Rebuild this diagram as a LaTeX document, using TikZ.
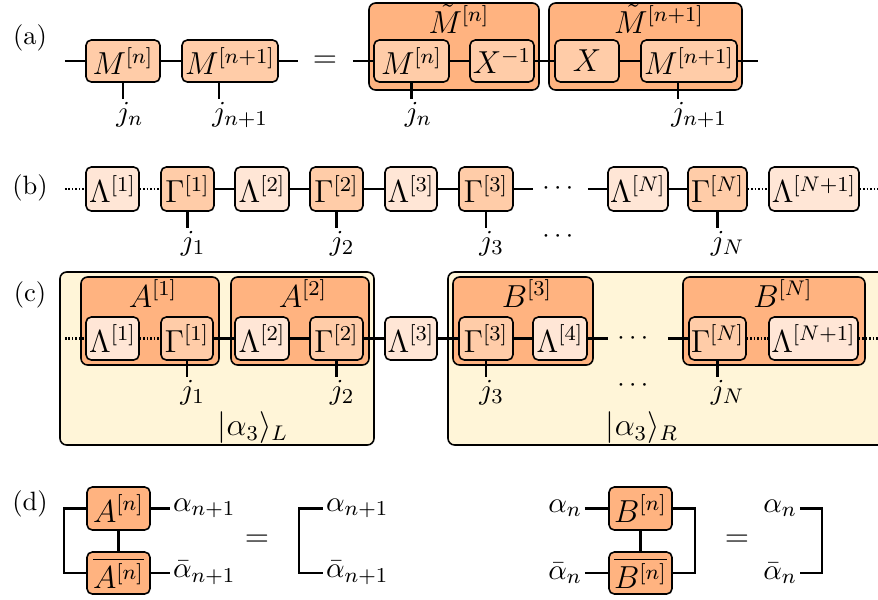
\documentclass[tikz,border=0pt]{standalone}
\usepackage{amsmath,mathtools}
\definecolor{orD}{HTML}{FFB380}
\definecolor{orM}{HTML}{FFCCA8}
\definecolor{orL}{HTML}{FFE6D6}
\definecolor{yel}{HTML}{FFF5D8}
\newcommand\labfont{\fontsize{11}{13}\selectfont}
\tikzset{
  bx/.style={draw, line width=0.6pt, rounded corners=2pt, inner sep=0pt, font=\large},
  midb/.style={bx, fill=orM},
  lightb/.style={bx, fill=orL},
  darkb/.style={bx, fill=orD},
  outerb/.style={draw, line width=0.6pt, rounded corners=2.5pt, inner sep=0pt, fill=orD},
  bgbox/.style={draw, line width=0.6pt, rounded corners=2.5pt, inner sep=0pt, fill=yel},
  wire/.style={line width=0.9pt},
  dwire/.style={line width=0.9pt, dash pattern=on 0.6pt off 0.7pt},
  lab/.style={inner sep=1pt, font=\labfont},
  ttl/.style={inner sep=0pt, font=\large, anchor=base},
  plab/.style={inner sep=0pt, anchor=base},
}
% box from corners (px): style, name, x1, y1, x2, y2, text
\newcommand\tbox[7]{%
  \pgfmathsetmacro\bw{(#5-#3)*0.3774}%
  \pgfmathsetmacro\bh{(#6-#4)*0.3774}%
  \pgfmathsetmacro\bcx{(#3+#5)/2}%
  \pgfmathsetmacro\bcy{(#4+#6)/2}%
  \node[#1, minimum width=\bw pt, minimum height=\bh pt] (#2) at (\bcx,\bcy) {#7};}
\begin{document}
\begin{tikzpicture}[x=0.3774pt,y=-0.3774pt]
\useasboundingbox (0,0) rectangle (878,599);
% ---------------- (a)
\node[plab] (la) at (30,44) {(a)};
\tbox{midb}{a1}{86}{40}{160}{82}{$M^{[n]}$}
\tbox{midb}{a2}{182}{40}{278}{82}{$M^{[n+1]}$}
\coordinate (aL) at (65,61);
\coordinate (aR) at (298,61);
\draw[wire] (aL) -- (a1) -- (a2) -- (aR);
\draw[wire] (a1.south) -- ++(0,16) coordinate (a1j);
\node[lab, anchor=north] at (a1j) {$j_{\mathrlap{n}}$};
\draw[wire] ([xshift=-11*0.3774pt]a2.south) -- ++(0,16) coordinate (a2j);
\node[lab, anchor=north] at (a2j) {$j_{\mathrlap{n+1}}$};
\node[font=\large] (eqa) at (325,62) {$=$};
\tbox{outerb}{mt1}{369}{3}{539}{90}{}
\tbox{outerb}{mt2}{549}{3}{742}{90}{}
\node[ttl] at (459,33.5) {$\tilde{M}^{[n]}$};
\node[ttl] at (659,33.5) {$\tilde{M}^{[n+1]}$};
\tbox{midb}{b1}{374}{40}{449}{82}{$M^{[n]}$}
\tbox{midb}{b2}{470}{40}{534}{82}{$X^{-1}$}
\tbox{midb}{b3}{555}{40}{619}{82}{$X$}
\tbox{midb}{b4}{641}{40}{737}{82}{$M^{[n+1]}$}
\coordinate (bL) at (353,61);
\coordinate (bR) at (758,61);
\draw[wire] (bL) -- (b1) -- (b2) -- (b3) -- (b4) -- (bR);
\draw[wire] (b1.south) -- ++(0,16) coordinate (b1j);
\node[lab, anchor=north] at (b1j) {$j_{\mathrlap{n}}$};
\draw[wire] ([xshift=-11*0.3774pt]b4.south) -- ++(0,16) coordinate (b4j);
\node[lab, anchor=north] at (b4j) {$j_{\mathrlap{n+1}}$};
% ---------------- (b)
\node[plab] (lb) at (30,194) {(b)};
\tbox{lightb}{c1}{86}{167}{139}{211}{$\Lambda^{[1]}$}
\tbox{midb}{c2}{161}{167}{214}{211}{$\Gamma^{[1]}$}
\tbox{lightb}{c3}{235}{167}{289}{211}{$\Lambda^{[2]}$}
\tbox{midb}{c4}{310}{167}{363}{211}{$\Gamma^{[2]}$}
\tbox{lightb}{c5}{385}{167}{437}{211}{$\Lambda^{[3]}$}
\tbox{midb}{c6}{459}{167}{513}{211}{$\Gamma^{[3]}$}
\tbox{lightb}{c7}{608}{167}{668}{211}{$\Lambda^{[N]}$}
\tbox{midb}{c8}{688}{167}{747}{211}{$\Gamma^{[N]}$}
\tbox{lightb}{c9}{769}{167}{859}{211}{$\Lambda^{[N+1]}$}
\coordinate (cL) at (65,189);
\coordinate (cR) at (880,189);
\coordinate (cD1) at (533,189);
\coordinate (cD2) at (588,189);
\node (cdots) at (560,189) {$\cdots$};
\draw[dwire] (cL) -- (c1) -- (c2);
\draw[wire] (c2) -- (c3) -- (c4) -- (c5) -- (c6) -- (cD1);
\draw[wire] (cD2) -- (c7) -- (c8);
\draw[dwire] (c8) -- (c9) -- (cR);
\foreach \n/\t in {c2/1, c4/2, c6/3, c8/N}{
  \draw[wire] (\n.south) -- ++(0,16) coordinate (\n j);
  \node[lab, anchor=north] at (\n j) {$j_{\mathrlap{\t}}$};
}
\node (cdots2) at (560,237) {$\cdots$};
% ---------------- (c)
\node[plab] (lc) at (30,301) {(c)};
\tbox{bgbox}{yL}{60}{272}{374}{445}{}
\tbox{bgbox}{yR}{448}{272}{890}{445}{}
\tbox{outerb}{A1}{81}{277}{219}{365}{}
\tbox{outerb}{A2}{231}{277}{369}{365}{}
\tbox{outerb}{B3}{453}{277}{593}{365}{}
\tbox{outerb}{BN}{683}{277}{865}{365}{}
\node[ttl] at (153,307) {$A^{[1]}$};
\node[ttl] at (303,307) {$A^{[2]}$};
\node[ttl] at (527,307) {$B^{[3]}$};
\node[ttl] at (783,307) {$B^{[N]}$};
\tbox{lightb}{d1}{86}{317}{139}{360}{$\Lambda^{[1]}$}
\tbox{midb}{d2}{161}{317}{213}{360}{$\Gamma^{[1]}$}
\tbox{lightb}{d3}{235}{317}{289}{360}{$\Lambda^{[2]}$}
\tbox{midb}{d4}{310}{317}{363}{360}{$\Gamma^{[2]}$}
\tbox{lightb}{d5}{385}{317}{437}{360}{$\Lambda^{[3]}$}
\tbox{midb}{d6}{459}{317}{513}{360}{$\Gamma^{[3]}$}
\tbox{lightb}{d7}{533}{317}{587}{360}{$\Lambda^{[4]}$}
\tbox{midb}{d8}{689}{317}{746}{360}{$\Gamma^{[N]}$}
\tbox{lightb}{d9}{769}{317}{858}{360}{$\Lambda^{[N+1]}$}
\coordinate (dL) at (65,338.5);
\coordinate (dR) at (880,338.5);
\coordinate (dD1) at (608,338.5);
\coordinate (dD2) at (668,338.5);
\node (ddots) at (635,338.5) {$\cdots$};
\draw[dwire] (dL) -- (d1) -- (d2);
\draw[wire] (d2) -- (d3) -- (d4) -- (d5) -- (d6) -- (d7) -- (dD1);
\draw[wire] (dD2) -- (d8);
\draw[dwire] (d8) -- (d9) -- (dR);
\foreach \n/\t in {d2/1, d4/2, d6/3, d8/N}{
  \draw[wire] (\n.south) -- ++(0,16) coordinate (\n j);
  \node[lab, anchor=north] at (\n j) {$j_{\mathrlap{\t}}$};
}
\node (ddots2) at (635,386) {$\cdots$};
\node[font=\large] at (253,428) {$|\alpha_3\rangle_L$};
\node[font=\large] at (642,428) {$|\alpha_3\rangle_R$};
% ---------------- (d)
\node[plab] (ld) at (30,510) {(d)};
\tbox{darkb}{e1}{87}{487}{150}{530}{$A^{[n]}$}
\tbox{darkb}{e2}{87}{552}{150}{594}{$\overline{A^{[n]}}$}
\coordinate (eL1) at (64,508.5);
\coordinate (eL2) at (64,573);
\coordinate (eR1) at (170,508.5);
\coordinate (eR2) at (170,573);
\draw[wire] (e1.west) -- (eL1) -- (eL2) -- (e2.west);
\draw[wire] (e1) -- (e2);
\draw[wire] (e1.east) -- (eR1);
\draw[wire] (e2.east) -- (eR2);
\node[lab, anchor=west] at (eR1) {$\alpha_{n+1}$};
\node[lab, anchor=west] at (eR2) {$\bar{\alpha}_{n+1}$};
\node[font=\large] at (257,541) {$=$};
\coordinate (f1) at (323,508.5);
\coordinate (f2) at (299,508.5);
\coordinate (f3) at (299,573);
\coordinate (f4) at (323,573);
\draw[wire] (f1) -- (f2) -- (f3) -- (f4);
\node[lab, anchor=west] at (f1) {$\alpha_{n+1}$};
\node[lab, anchor=west] at (f4) {$\bar{\alpha}_{n+1}$};
\tbox{darkb}{g1}{609}{487}{672}{530}{$B^{[n]}$}
\tbox{darkb}{g2}{609}{552}{672}{594}{$\overline{B^{[n]}}$}
\coordinate (gL1) at (585,508.5);
\coordinate (gL2) at (585,573);
\coordinate (gR1) at (695,508.5);
\coordinate (gR2) at (695,573);
\draw[wire] (gL1) -- (g1.west);
\draw[wire] (gL2) -- (g2.west);
\draw[wire] (g1) -- (g2);
\draw[wire] (g1.east) -- (gR1) -- (gR2) -- (g2.east);
\node[lab, anchor=east] at (gL1) {$\alpha_n$};
\node[lab, anchor=east] at (gL2) {$\bar{\alpha}_n$};
\node[font=\large] at (737,541) {$=$};
\coordinate (h1) at (800,508.5);
\coordinate (h2) at (822,508.5);
\coordinate (h3) at (822,573);
\coordinate (h4) at (800,573);
\draw[wire] (h1) -- (h2) -- (h3) -- (h4);
\node[lab, anchor=east] at (h1) {$\alpha_n$};
\node[lab, anchor=east] at (h4) {$\bar{\alpha}_n$};
\end{tikzpicture}
\end{document}
